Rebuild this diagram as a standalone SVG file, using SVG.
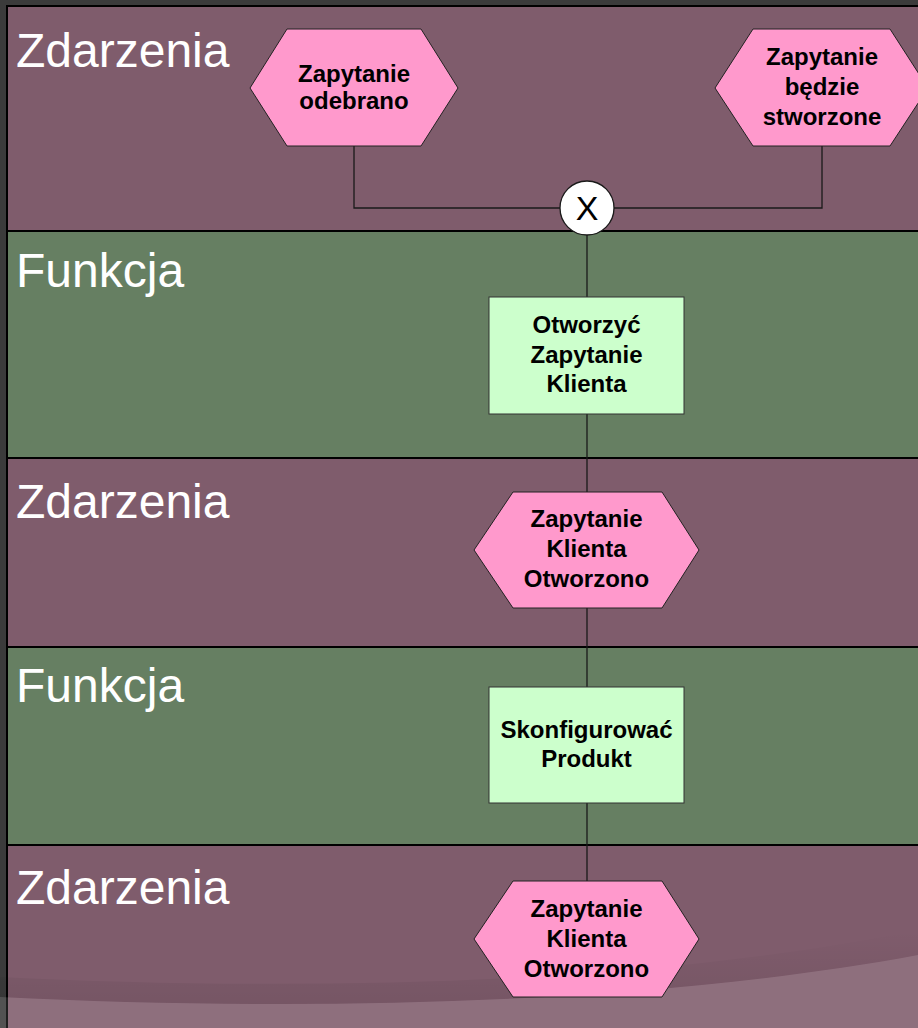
<svg xmlns="http://www.w3.org/2000/svg" width="918" height="1028" viewBox="0 0 918 1028">
  <defs>
    <style>
      .lane-ev { fill: #7f5c6c; stroke: #000; stroke-width: 2; }
      .lane-fn { fill: #667f62; stroke: #000; stroke-width: 2; }
      .lane-label { font-family: "Liberation Sans", Arial, sans-serif; font-size: 48px; fill: #ffffff; }
      .ev { fill: #ff99cc; stroke: #222; stroke-width: 1; }
      .fn { fill: #ccffcc; stroke: #333; stroke-width: 1; }
      .nt { font-family: "Liberation Sans", Arial, sans-serif; font-size: 24px; font-weight: bold; fill: #000; text-anchor: middle; }
      .conn { fill: none; stroke: #1a1a1a; stroke-width: 1.3; }
    </style>
    <linearGradient id="shade" x1="0" y1="0" x2="0" y2="1">
      <stop offset="0" stop-color="#000" stop-opacity="0"/>
      <stop offset="1" stop-color="#000" stop-opacity="0.07"/>
    </linearGradient>
  </defs>

  <rect x="0" y="0" width="918" height="1028" fill="#3b3b3b"/>

  <g id="lanes">
    <rect class="lane-ev" x="7" y="6" width="920" height="225"/>
    <rect class="lane-fn" x="7" y="231" width="920" height="227"/>
    <rect class="lane-ev" x="7" y="458" width="920" height="189"/>
    <rect class="lane-fn" x="7" y="647" width="920" height="198"/>
    <rect class="lane-ev" x="7" y="845" width="920" height="200"/>
    <text class="lane-label" x="16" y="67">Zdarzenia</text>
    <text class="lane-label" x="16" y="287">Funkcja</text>
    <text class="lane-label" x="16" y="518">Zdarzenia</text>
    <text class="lane-label" x="16" y="702">Funkcja</text>
    <text class="lane-label" x="16" y="904">Zdarzenia</text>
  </g>

  <g id="decoration">
    <path d="M0,977 C300,992 650,985 918,930 L918,955 C650,1005 300,1012 0,997 Z" fill="url(#shade)"/>
    <path d="M0,997 C300,1012 650,1005 918,955 L918,1028 L0,1028 Z" fill="#ffffff" fill-opacity="0.12"/>
  </g>

  <g id="connectors">
    <path class="conn" d="M354,146 V208 H822 V146"/>
    <path class="conn" d="M587,235 V297"/>
    <path class="conn" d="M587,414 V492"/>
    <path class="conn" d="M587,608 V687"/>
    <path class="conn" d="M587,803 V881"/>
  </g>

  <g id="ev1">
    <polygon class="ev" points="250,88 287,29 421,29 458,88 421,146 287,146"/>
    <text class="nt" x="354" y="82">Zapytanie</text>
    <text class="nt" x="354" y="109">odebrano</text>
  </g>

  <g id="ev2">
    <polygon class="ev" points="715,88 753,29 890,29 928,88 890,146 753,146"/>
    <text class="nt" x="822" y="65">Zapytanie</text>
    <text class="nt" x="822" y="95">będzie</text>
    <text class="nt" x="822" y="125">stworzone</text>
  </g>

  <g id="xor">
    <circle cx="587" cy="208" r="27" fill="#ffffff" stroke="#1a1a1a" stroke-width="1.3"/>
    <text x="587" y="220" font-family="Liberation Sans, Arial, sans-serif" font-size="34" text-anchor="middle" fill="#000">X</text>
  </g>

  <g id="fn1">
    <rect class="fn" x="489" y="297" width="195" height="117"/>
    <text class="nt" x="586.5" y="333">Otworzyć</text>
    <text class="nt" x="586.5" y="363">Zapytanie</text>
    <text class="nt" x="586.5" y="392">Klienta</text>
  </g>

  <g id="ev3">
    <polygon class="ev" points="474,550 513,492 662,492 699,550 662,608 513,608"/>
    <text class="nt" x="586.5" y="527">Zapytanie</text>
    <text class="nt" x="586.5" y="557">Klienta</text>
    <text class="nt" x="586.5" y="587">Otworzono</text>
  </g>

  <g id="fn2">
    <rect class="fn" x="489" y="687" width="195" height="116"/>
    <text class="nt" x="586.5" y="738">Skonfigurować</text>
    <text class="nt" x="586.5" y="767">Produkt</text>
  </g>

  <g id="ev4">
    <polygon class="ev" points="474,939 513,881 662,881 699,939 662,997 513,997"/>
    <text class="nt" x="586.5" y="917">Zapytanie</text>
    <text class="nt" x="586.5" y="947">Klienta</text>
    <text class="nt" x="586.5" y="977">Otworzono</text>
  </g>
</svg>
